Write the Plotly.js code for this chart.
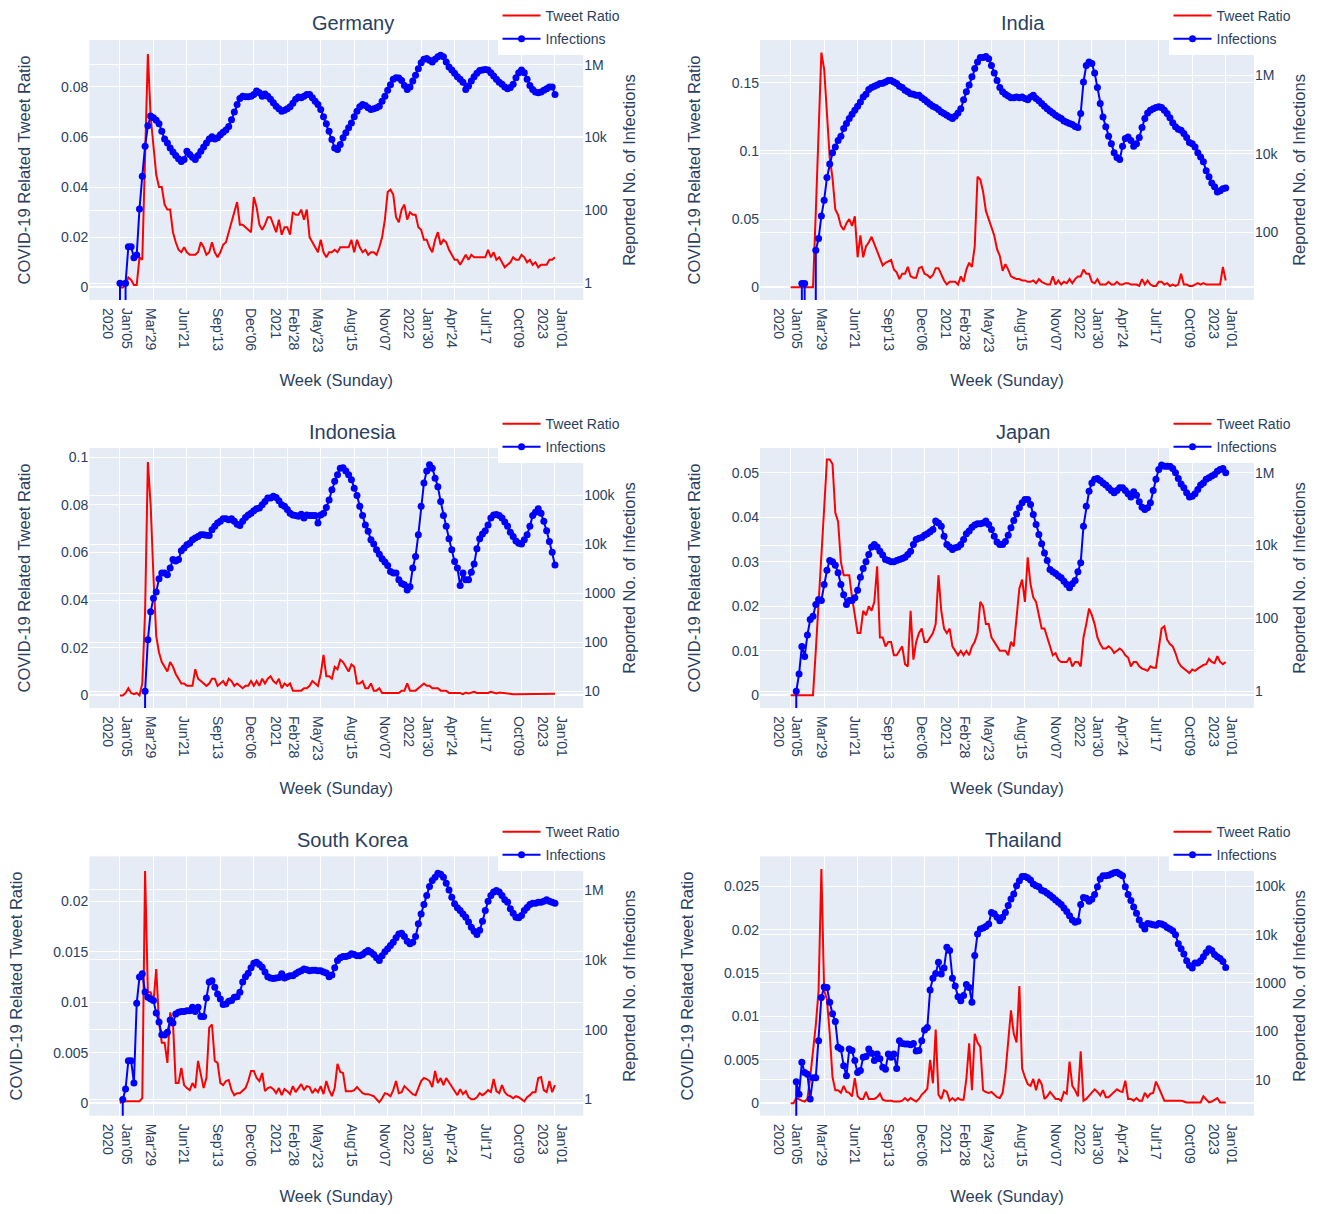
<!DOCTYPE html>
<html>
<head>
<meta charset="utf-8">
<script src="https://cdn.plot.ly/plotly-3.0.1.min.js"></script>
<style>
  body { margin: 0; background: #fff; }
  #chart { width: 1325px; height: 1214px; }
</style>
</head>
<body>
<div id="chart"></div>
<script>
// one point per week (Sunday), 2020-01-05 .. 2023-01-01
var weeks = [];
for (var k = 0; k < 157; k++) {
  var d = new Date(Date.UTC(2020, 0, 5 + 7 * k));
  weeks.push(d.toISOString().slice(0, 10));
}

// every 12th Sunday; when the year changes the year is a second line
var tickVals = ['2020-01-05', '2020-03-29', '2020-06-21', '2020-09-13', '2020-12-06',
  '2021-02-28', '2021-05-23', '2021-08-15', '2021-11-07', '2022-01-30',
  '2022-04-24', '2022-07-17', '2022-10-09', '2023-01-01'];
var tickText = ["Jan'05<br>2020", "Mar'29", "Jun'21", "Sep'13", "Dec'06",
  "Feb'28<br>2021", "May'23", "Aug'15", "Nov'07", "Jan'30<br>2022",
  "Apr'24", "Jul'17", "Oct'09", "Jan'01<br>2023"];

var countries = ['Germany', 'India', 'Indonesia', 'Japan', 'South Korea', 'Thailand'];

// ---- Germany ----
var germanyTweet = [
  0, 0, 0.001, 0.004, 0.003, 0.001, 0.001, 0.012, 0.011, 0.05, 0.093, 0.068,
  0.055, 0.045, 0.040, 0.040, 0.033, 0.031, 0.031, 0.022, 0.018, 0.015, 0.014, 0.016,
  0.014, 0.013, 0.013, 0.013, 0.014, 0.018, 0.016, 0.013, 0.014, 0.018, 0.014, 0.012,
  0.014, 0.017, 0.018, 0.022, 0.027, 0.030, 0.034, 0.025, 0.025, 0.024, 0.023, 0.022,
  0.036, 0.032, 0.025, 0.023, 0.025, 0.028, 0.028, 0.025, 0.022, 0.027, 0.021, 0.024,
  0.024, 0.021, 0.030, 0.029, 0.029, 0.031, 0.027, 0.031, 0.020, 0.018, 0.016, 0.014,
  0.019, 0.014, 0.012, 0.014, 0.014, 0.015, 0.014, 0.016, 0.016, 0.016, 0.016, 0.019,
  0.014, 0.019, 0.016, 0.014, 0.015, 0.013, 0.014, 0.014, 0.013, 0.016, 0.020, 0.027,
  0.038, 0.039, 0.037, 0.028, 0.026, 0.031, 0.033, 0.027, 0.030, 0.029, 0.029, 0.024,
  0.023, 0.019, 0.019, 0.016, 0.014, 0.019, 0.022, 0.017, 0.019, 0.018, 0.015, 0.013,
  0.011, 0.011, 0.009, 0.011, 0.013, 0.011, 0.013, 0.012, 0.012, 0.012, 0.012, 0.012,
  0.015, 0.012, 0.014, 0.011, 0.012, 0.010, 0.008, 0.009, 0.010, 0.012, 0.011, 0.011,
  0.013, 0.012, 0.010, 0.011, 0.009, 0.010, 0.008, 0.009, 0.009, 0.009, 0.011, 0.011,
  0.012];
var germanyCases = [
  1, 0, 1, 10, 10, 5, 6, 110, 870, 5800, 21000, 39000,
  35000, 30000, 24000, 15000, 9100, 7100, 5200, 4000, 3200, 2600, 2200, 2500,
  4200, 3400, 2900, 2500, 3200, 4200, 5500, 7100, 9100, 10500, 9100, 9800,
  12000, 14000, 16000, 20000, 31000, 50000, 81000, 118000, 137000, 132000, 132000, 137000,
  152000, 190000, 170000, 137000, 158000, 137000, 112000, 90000, 72000, 62000, 53000, 56000,
  62000, 70000, 87000, 112000, 129000, 124000, 137000, 152000, 152000, 124000, 100000, 81000,
  59000, 37000, 24000, 15000, 8800, 5200, 4700, 6400, 9800, 13500, 18500, 25000,
  37000, 53000, 70000, 81000, 76000, 66000, 59000, 62000, 66000, 72000, 100000, 137000,
  200000, 280000, 400000, 440000, 430000, 370000, 270000, 210000, 245000, 355000, 510000, 780000,
  1140000, 1410000, 1480000, 1320000, 1180000, 1410000, 1660000, 1820000, 1660000, 1180000, 870000, 710000,
  580000, 470000, 400000, 330000, 210000, 260000, 355000, 470000, 580000, 690000, 710000, 740000,
  710000, 600000, 490000, 400000, 330000, 290000, 245000, 220000, 235000, 290000, 440000, 600000,
  710000, 600000, 400000, 270000, 210000, 178000, 170000, 178000, 200000, 220000, 245000, 245000,
  152000];

// ---- India ----
var indiaTweet = [
  0, 0, 0, 0, 0, 0, 0, 0, 0, 0.055, 0.115, 0.172,
  0.16, 0.13, 0.095, 0.08, 0.057, 0.053, 0.045, 0.042, 0.047, 0.05, 0.045, 0.052,
  0.022, 0.038, 0.022, 0.03, 0.033, 0.037, 0.032, 0.027, 0.022, 0.016, 0.018, 0.019,
  0.02, 0.013, 0.011, 0.006, 0.01, 0.01, 0.015, 0.008, 0.007, 0.007, 0.014, 0.015,
  0.01, 0.009, 0.007, 0.009, 0.014, 0.014, 0.009, 0.005, 0.002, 0.004, 0.004, 0.004,
  0.002, 0.008, 0.004, 0.013, 0.018, 0.015, 0.03, 0.081, 0.079, 0.07, 0.056, 0.05,
  0.045, 0.038, 0.028, 0.023, 0.012, 0.017, 0.013, 0.008, 0.007, 0.006, 0.006, 0.005,
  0.005, 0.004, 0.004, 0.005, 0.003, 0.006, 0.004, 0.003, 0.002, 0.002, 0.008, 0.002,
  0.005, 0.002, 0.004, 0.003, 0.006, 0.003, 0.006, 0.008, 0.008, 0.013, 0.01, 0.01,
  0.004, 0.003, 0.006, 0.002, 0.002, 0.002, 0.004, 0.002, 0.002, 0.004, 0.002, 0.002,
  0.003, 0.003, 0.002, 0.002, 0.002, 0.001, 0.006, 0.002, 0.005, 0.002, 0.001, 0.001,
  0.004, 0.004, 0.002, 0.003, 0.001, 0.002, 0.001, 0.002, 0.01, 0.002, 0.002, 0.001,
  0.001, 0.002, 0.003, 0.002, 0.003, 0.002, 0.002, 0.002, 0.002, 0.002, 0.002, 0.015,
  0.005];
var indiaCases = [
  0, 0, 0, 0, 5, 5, 0, 0, 0, 35, 70, 260,
  660, 2500, 5500, 10700, 15000, 22000, 28000, 44000, 59000, 79000, 102000, 129000,
  162000, 209000, 281000, 331000, 436000, 490000, 525000, 562000, 617000, 631000, 676000, 741000,
  741000, 676000, 617000, 525000, 490000, 417000, 380000, 339000, 331000, 309000, 309000, 269000,
  240000, 209000, 182000, 162000, 151000, 135000, 117000, 107000, 96000, 87000, 79000, 91000,
  110000, 141000, 240000, 380000, 562000, 912000, 1480000, 2190000, 2820000, 2820000, 3020000, 2630000,
  1780000, 1150000, 741000, 490000, 380000, 331000, 295000, 269000, 269000, 281000, 269000, 281000,
  257000, 240000, 281000, 309000, 257000, 224000, 191000, 162000, 141000, 123000, 110000, 96000,
  87000, 79000, 69000, 64000, 59000, 56000, 50000, 47000, 107000, 676000, 1780000, 2190000,
  2000000, 1150000, 490000, 191000, 87000, 49000, 28000, 18000, 10700, 8100, 7200, 15600,
  24500, 27000, 22000, 15600, 18000, 26000, 47000, 79000, 110000, 129000, 141000, 151000,
  158000, 151000, 129000, 107000, 83000, 62000, 49000, 42000, 40000, 33000, 26000, 19500,
  18000, 15000, 10700, 8300, 6300, 3700, 2600, 1800, 1450, 1070, 1150, 1300,
  1350];

// ---- Indonesia ----
var indonesiaTweet = [
  0, 0, 0.001, 0.003, 0.001, 0.0005, 0.001, 0, 0.005, 0.035, 0.098, 0.08,
  0.05, 0.025, 0.018, 0.014, 0.012, 0.01, 0.014, 0.012, 0.009, 0.007, 0.005, 0.005,
  0.004, 0.004, 0.004, 0.011, 0.007, 0.006, 0.005, 0.004, 0.005, 0.007, 0.007, 0.004,
  0.005, 0.006, 0.004, 0.007, 0.006, 0.004, 0.005, 0.004, 0.003, 0.004, 0.004, 0.006,
  0.004, 0.006, 0.004, 0.007, 0.005, 0.007, 0.008, 0.006, 0.005, 0.007, 0.003, 0.005,
  0.004, 0.005, 0.002, 0.002, 0.002, 0.002, 0.003, 0.003, 0.004, 0.006, 0.005, 0.004,
  0.009, 0.017, 0.008, 0.008, 0.007, 0.012, 0.011, 0.015, 0.014, 0.012, 0.01, 0.013,
  0.012, 0.005, 0.005, 0.006, 0.003, 0.003, 0.005, 0.002, 0.002, 0.003, 0.001, 0.001,
  0.001, 0.001, 0.001, 0.001, 0.001, 0.002, 0.002, 0.005, 0.002, 0.002, 0.002, 0.003,
  0.004, 0.005, 0.004, 0.004, 0.003, 0.003, 0.003, 0.002, 0.002, 0.002, 0.001, 0.001,
  0.001, 0.001, 0.001, 0.0005, 0.0012, 0.0008, 0.001, 0.0015, 0.001, 0.001, 0.0012, 0.001,
  0.001, 0.0015, 0.0012, 0.0008, 0.0012, 0.001, 0.0008, 0.0006, 0.0005, 0.0005, 0.0005, 0.0005,
  0.0005, 0.0006, 0.0006, 0.0007, 0.0008, 0.0008, 0.0006, 0.0005, 0.0008, 0.0006, 0.0005, 0.0006,
  0.0007];
var indonesiaCases = [
  0, 0, 0, 0, 0, 0, 0, 0, 0, 10, 113, 420,
  800, 1070, 2000, 2600, 2600, 2400, 3300, 4900, 4600, 4900, 7400, 8500,
  9800, 10600, 12500, 13500, 14500, 15800, 15800, 15400, 15200, 20000, 23400, 27300,
  29600, 33500, 33500, 31800, 33500, 29600, 25700, 24400, 29600, 35500, 40000, 43500,
  49000, 53700, 55400, 64500, 75000, 88500, 88500, 96000, 91000, 78000, 64500, 60000,
  51500, 43500, 40000, 39000, 37500, 41500, 34500, 40000, 39000, 39000, 39000, 27300,
  40000, 43500, 57000, 81000, 131000, 195000, 265000, 360000, 370000, 315000, 265000, 210000,
  141000, 100000, 60000, 39000, 25000, 18500, 12500, 10200, 7800, 6300, 5100, 4400,
  3700, 2800, 2600, 2600, 1900, 1600, 1500, 1180, 1370, 3300, 5700, 15800,
  60000, 180000, 315000, 425000, 360000, 224000, 151000, 75000, 39000, 23400, 13100, 7800,
  4500, 3300, 1450, 2600, 1900, 1900, 2700, 4000, 8200, 13100, 16300, 19000,
  25000, 34500, 40000, 41000, 39000, 34500, 28700, 23400, 17800, 14500, 11800, 10600,
  10200, 12500, 15800, 23400, 39000, 45700, 53700, 43500, 29600, 19000, 11500, 6900,
  3800];

// ---- Japan ----
var japanTweet = [
  0, 0, 0, 0, 0, 0, 0, 0, 0, 0.01, 0.02, 0.03,
  0.042, 0.053, 0.053, 0.052, 0.041, 0.039, 0.03, 0.027, 0.027, 0.027, 0.022, 0.018,
  0.014, 0.014, 0.019, 0.018, 0.02, 0.019, 0.021, 0.029, 0.013, 0.013, 0.011, 0.012,
  0.012, 0.009, 0.009, 0.01, 0.011, 0.007, 0.0065, 0.019, 0.008, 0.012, 0.014, 0.015,
  0.012, 0.012, 0.013, 0.014, 0.016, 0.027, 0.019, 0.015, 0.014, 0.015, 0.011, 0.01,
  0.009, 0.01, 0.009, 0.01, 0.009, 0.011, 0.012, 0.014, 0.021, 0.02, 0.016, 0.016,
  0.013, 0.012, 0.011, 0.01, 0.01, 0.01, 0.009, 0.012, 0.011, 0.017, 0.024, 0.026,
  0.021, 0.031, 0.025, 0.022, 0.021, 0.018, 0.015, 0.015, 0.013, 0.011, 0.009, 0.0095,
  0.008, 0.0075, 0.0075, 0.0075, 0.0085, 0.0065, 0.0075, 0.0075, 0.0065, 0.013, 0.016, 0.0195,
  0.018, 0.016, 0.013, 0.0115, 0.0105, 0.0105, 0.011, 0.0105, 0.0095, 0.01, 0.0105, 0.01,
  0.009, 0.0085, 0.0065, 0.0075, 0.0075, 0.0065, 0.006, 0.0058, 0.0055, 0.0065, 0.0062, 0.0062,
  0.011, 0.015, 0.0155, 0.0125, 0.0115, 0.011, 0.0095, 0.0075, 0.0065, 0.006, 0.0053, 0.005,
  0.0058, 0.0055, 0.006, 0.0065, 0.0068, 0.007, 0.0082, 0.0075, 0.0072, 0.0088, 0.0075, 0.007,
  0.0075];
var japanCases = [
  0, 0, 1, 3, 17, 9, 35, 93, 115, 240, 330, 310,
  850, 2100, 3900, 3600, 2900, 1800, 850, 450, 240, 310, 310, 370,
  590, 1350, 2350, 3600, 5700, 9100, 10700, 9100, 7000, 5500, 4150, 3900,
  3600, 3600, 3900, 4150, 4400, 4800, 5700, 7000, 10700, 14700, 16000, 16600,
  19300, 21000, 24000, 27700, 47000, 42000, 34000, 18100, 10700, 9100, 7800, 8700,
  9100, 10700, 14700, 21000, 25000, 32000, 36500, 40000, 40000, 42000, 47000, 38000,
  27700, 18100, 12600, 10700, 10700, 13000, 19300, 31000, 49000, 74000, 110000, 149000,
  185000, 185000, 135000, 71000, 38000, 20000, 11200, 6300, 3900, 2200, 1900, 1700,
  1450, 1300, 1050, 850, 690, 890, 1100, 1900, 3400, 34000, 120000, 310000,
  525000, 660000, 690000, 615000, 525000, 457000, 390000, 325000, 283000, 325000, 390000, 390000,
  325000, 263000, 214000, 302000, 240000, 160000, 113000, 98000, 110000, 149000, 325000, 660000,
  1230000, 1620000, 1500000, 1500000, 1500000, 1310000, 1000000, 690000, 490000, 390000, 283000, 214000,
  225000, 263000, 347000, 457000, 525000, 660000, 725000, 810000, 890000, 1100000, 1230000, 1310000,
  1000000];

// ---- South Korea ----
var koreaTweet = [
  0, 0.0002, 0.0002, 0.0002, 0.0002, 0.0002, 0.0002, 0.0002, 0.0005, 0.023, 0.011, 0.011,
  0.010, 0.0133, 0.008, 0.006, 0.006, 0.004, 0.009, 0.008, 0.002, 0.002, 0.0035, 0.0018,
  0.0015, 0.0013, 0.002, 0.0015, 0.0042, 0.003, 0.0015, 0.0025, 0.0075, 0.0078, 0.0042, 0.004,
  0.002, 0.0018, 0.0022, 0.0023, 0.0013, 0.0008, 0.001, 0.001, 0.0013, 0.0015, 0.0022, 0.0032,
  0.0032, 0.0025, 0.0022, 0.003, 0.0012, 0.0015, 0.0016, 0.0014, 0.001, 0.0015, 0.0008, 0.0014,
  0.0012, 0.0009, 0.0017, 0.0011, 0.0015, 0.0019, 0.0013, 0.0017, 0.0016, 0.001, 0.0014, 0.0011,
  0.0017, 0.0009, 0.0022, 0.0013, 0.0007, 0.0015, 0.0039, 0.0031, 0.003, 0.0012, 0.0012, 0.0012,
  0.0013, 0.0016, 0.0013, 0.001, 0.0009, 0.0009, 0.0008, 0.0007, 0.0004, 0.0001, 0.0005, 0.001,
  0.0009, 0.0007, 0.0013, 0.0022, 0.001, 0.0011, 0.0017, 0.0014, 0.0011, 0.0009, 0.0008, 0.0015,
  0.0022, 0.0025, 0.0024, 0.0022, 0.0016, 0.0032, 0.002, 0.0025, 0.0018, 0.0025, 0.0021, 0.0016,
  0.0013, 0.0008, 0.0014, 0.0009, 0.0012, 0.0006, 0.0004, 0.0004, 0.0006, 0.001, 0.0008, 0.001,
  0.0013, 0.0011, 0.0024, 0.0012, 0.001, 0.0018, 0.0011, 0.0008, 0.0007, 0.0005, 0.0007, 0.0006,
  0.0004, 0.0002, 0.0006, 0.0008, 0.0011, 0.0011, 0.0025, 0.0026, 0.0013, 0.0011, 0.0022, 0.0011,
  0.0018];
var koreaCases = [
  0, 1, 2, 13, 13, 3, 570, 3200, 4000, 1200, 850, 760,
  680, 300, 165, 72, 70, 85, 190, 155, 280, 315, 330, 330,
  350, 350, 440, 330, 440, 240, 240, 810, 2300, 2500, 1650, 1050,
  760, 525, 540, 650, 680, 850, 880, 1180, 2300, 3300, 4150, 5900,
  8000, 8500, 7300, 6100, 4450, 3300, 3000, 2900, 3000, 3100, 4000, 3000,
  3300, 3500, 3500, 4000, 4450, 4900, 5500, 5200, 4900, 5000, 5000, 4900,
  4900, 4450, 4200, 3300, 3700, 5900, 9500, 11400, 12400, 12400, 13000, 14800,
  14300, 13000, 13000, 14300, 16500, 18400, 16500, 14300, 11400, 9500, 13000, 17000,
  20600, 25500, 31800, 42600, 55000, 57700, 46700, 34100, 28700, 31800, 46700, 107000,
  206000, 380000, 690000, 1260000, 1860000, 2300000, 3000000, 2800000, 2300000, 1560000, 1000000, 620000,
  400000, 308000, 258000, 206000, 166000, 120000, 85000, 66000, 53000, 70000, 127000, 258000,
  475000, 690000, 870000, 960000, 870000, 690000, 520000, 445000, 290000, 215000, 166000, 160000,
  185000, 258000, 315000, 380000, 415000, 415000, 445000, 445000, 475000, 520000, 475000, 440000,
  415000];

// ---- Thailand ----
var thailandTweet = [
  0, 0, 0.0006, 0.0004, 0.0003, 0.0002, 0.0005, 0.003, 0.006, 0.009, 0.013, 0.027,
  0.013, 0.012, 0.008, 0.003, 0.0015, 0.0015, 0.0012, 0.002, 0.0013, 0.0012, 0.0008, 0.0029,
  0.0008, 0.0005, 0.0005, 0.0013, 0.0005, 0.0005, 0.0005, 0.0007, 0.0011, 0.0004, 0.0003, 0.0003,
  0.0003, 0.0002, 0.0002, 0.0002, 0.0003, 0.0006, 0.0003, 0.0006, 0.0004, 0.0002, 0.0005, 0.001,
  0.0013, 0.0017, 0.005, 0.0023, 0.0085, 0.001, 0.0005, 0.0015, 0.0013, 0.0003, 0.0006, 0.0003,
  0.0006, 0.0004, 0.0004, 0.0028, 0.0069, 0.0015, 0.008, 0.007, 0.0065, 0.0015, 0.0013, 0.0012,
  0.0013, 0.001, 0.0007, 0.0006, 0.0012, 0.0035, 0.0075, 0.0107, 0.008, 0.007, 0.0135, 0.004,
  0.003, 0.0022, 0.002, 0.0028, 0.0015, 0.0028, 0.0022, 0.0005, 0.0008, 0.0013, 0.0009, 0.0005,
  0.0005, 0.0003, 0.0013, 0.0011, 0.0048, 0.002, 0.0015, 0.0008, 0.006, 0.0003, 0.0005, 0.0009,
  0.0013, 0.0016, 0.0013, 0.0009, 0.0015, 0.0007, 0.0007, 0.001, 0.0013, 0.0016, 0.0014, 0.0013,
  0.0026, 0.0005, 0.0005, 0.0003, 0.0006, 0.0003, 0.0003, 0.0012, 0.0007, 0.0011, 0.0012, 0.0025,
  0.0018, 0.001, 0.0003, 0.0003, 0.0003, 0.0003, 0.0003, 0.0003, 0.0003, 0.0002, 0.0001, 0.0001,
  0.0001, 0.0001, 0.0001, 0.0001, 0.0008, 0.0004, 0.0001, 0.0002, 0.0004, 0.0006, 0.0001, 0.0001,
  0.0001];
var thailandCases = [
  0, 0, 9, 5, 23, 14, 13, 4, 11, 11, 64, 500,
  830, 810, 400, 230, 160, 47, 43, 19.5, 12, 43, 40, 25,
  14, 15.5, 29, 30, 43, 35, 25, 34, 27, 18, 16.5, 34,
  29, 34, 17, 64, 56, 55, 55, 53, 56, 39, 40, 64,
  107, 120, 720, 1260, 1580, 2700, 1530, 2050, 5500, 4700, 1260, 870,
  520, 430, 550, 930, 810, 400, 3700, 10300, 13100, 13800, 14700, 16600,
  28600, 27000, 22800, 19500, 22800, 28600, 40000, 55000, 69000, 103000, 131000, 160000,
  160000, 150000, 135000, 112000, 103000, 98000, 83000, 79000, 72000, 65000, 59000, 52000,
  47000, 42000, 35700, 30300, 24600, 20000, 18000, 19000, 42000, 59000, 57000, 49000,
  54000, 68000, 98000, 141000, 166000, 166000, 170000, 180000, 190000, 195000, 180000, 166000,
  98000, 68000, 51000, 37500, 27700, 20000, 15600, 13100, 17100, 16600, 16000, 15600,
  17100, 16600, 15600, 14100, 13100, 12100, 10000, 6500, 5100, 4000, 2900, 2300,
  2050, 2600, 2600, 2900, 3500, 4300, 5100, 4700, 3900, 3500, 3200, 2800,
  2100];

var tweetData = [germanyTweet, indiaTweet, indonesiaTweet, japanTweet, koreaTweet, thailandTweet];
var caseData = [germanyCases, indiaCases, indonesiaCases, japanCases, koreaCases, thailandCases];

// axis settings per panel
var leftRange = [[-0.005, 0.0986], [-0.0093, 0.1813], [-0.0053, 0.1039],
                 [-0.00286, 0.0556], [-0.00123, 0.02446], [-0.00143, 0.02846]];
var leftDtick = [0.02, 0.05, 0.02, 0.01, 0.005, 0.005];
var rightRange = [[-0.46, 6.68], [0.28, 6.9], [0.66, 5.97],
                  [-0.46, 6.68], [-0.46, 6.96], [0.255, 5.62]];
var rightDtick = [2, 2, 1, 2, 2, 1];
var xRange = ['2019-10-20', '2023-03-13'];

var xDomains = [[0.0674, 0.4402], [0.5736, 0.9464]];
var yDomains = [[0.7529, 0.9671], [0.4168, 0.6310], [0.0810, 0.2946]];
var titleX = [0.2664, 0.7721];
var titleY = [0.981, 0.6442, 0.3081];
var legendX = [0.3755, 0.8819];
var legendY = [1.0, 0.6639, 0.3278];

var fontColor = '#2a3f5f';
var traces = [];
var layout = {
  width: 1325,
  height: 1214,
  margin: {l: 0, r: 0, t: 0, b: 0},
  paper_bgcolor: 'white',
  plot_bgcolor: '#E5ECF6',
  font: {family: 'Liberation Sans, Arial, sans-serif', color: fontColor, size: 14},
  annotations: []
};

for (var p = 0; p < 6; p++) {
  var n = p + 1;
  var col = p % 2;
  var row = Math.floor(p / 2);
  var xName = n === 1 ? 'x' : 'x' + n;
  var yl = 2 * n - 1, yr = 2 * n;
  var ylName = yl === 1 ? 'y' : 'y' + yl;
  var yrName = 'y' + yr;
  var legId = n === 1 ? 'legend' : 'legend' + n;

  traces.push({
    x: weeks, y: tweetData[p], name: 'Tweet Ratio', type: 'scatter', mode: 'lines',
    line: {color: 'red', width: 2}, xaxis: xName, yaxis: ylName,
    legend: legId, legendgroup: 'tweet' + n
  });
  traces.push({
    x: weeks, y: caseData[p], name: 'Infections', type: 'scatter', mode: 'lines+markers',
    line: {color: 'blue', width: 2}, marker: {color: 'blue', size: 7},
    xaxis: xName, yaxis: yrName, legend: legId, legendgroup: 'inf' + n
  });

  layout[n === 1 ? 'xaxis' : 'xaxis' + n] = {
    domain: xDomains[col], anchor: ylName, type: 'date', range: xRange,
    tickmode: 'array', tickvals: tickVals, ticktext: tickText, tickangle: 90,
    ticklabelstandoff: 7, ticklabelshift: -3,
    showgrid: true, gridcolor: 'white', gridwidth: 1, zeroline: false, showline: false, ticks: '',
    tickfont: {size: 14},
    title: {text: 'Week (Sunday)', font: {size: 16.5}, standoff: 22}
  };
  layout[yl === 1 ? 'yaxis' : 'yaxis' + yl] = {
    domain: yDomains[row], anchor: xName, range: leftRange[p], dtick: leftDtick[p], tick0: 0,
    showgrid: true, gridcolor: 'white', gridwidth: 1,
    zeroline: true, zerolinecolor: 'white', zerolinewidth: 2, showline: false, ticks: '',
    tickfont: {size: 14},
    title: {text: 'COVID-19 Related Tweet Ratio', font: {size: 16.5}, standoff: 26}
  };
  layout['yaxis' + yr] = {
    overlaying: ylName, side: 'right', anchor: xName, type: 'log',
    range: rightRange[p], dtick: rightDtick[p],
    showgrid: true, gridcolor: 'white', gridwidth: 1, zeroline: false, showline: false, ticks: '',
    tickfont: {size: 14},
    title: {text: 'Reported No. of Infections', font: {size: 16.5}}
  };
  layout[legId] = {
    x: legendX[col], y: legendY[row], xanchor: 'left', yanchor: 'top',
    bgcolor: 'white', font: {size: 14}, itemwidth: 38, tracegroupgap: 2
  };
  layout.annotations.push({
    text: countries[p], xref: 'paper', yref: 'paper', x: titleX[col], y: titleY[row],
    xanchor: 'center', yanchor: 'middle', showarrow: false, font: {size: 20, color: fontColor}
  });
}

Plotly.newPlot('chart', traces, layout, {displayModeBar: false});
</script>
</body>
</html>
